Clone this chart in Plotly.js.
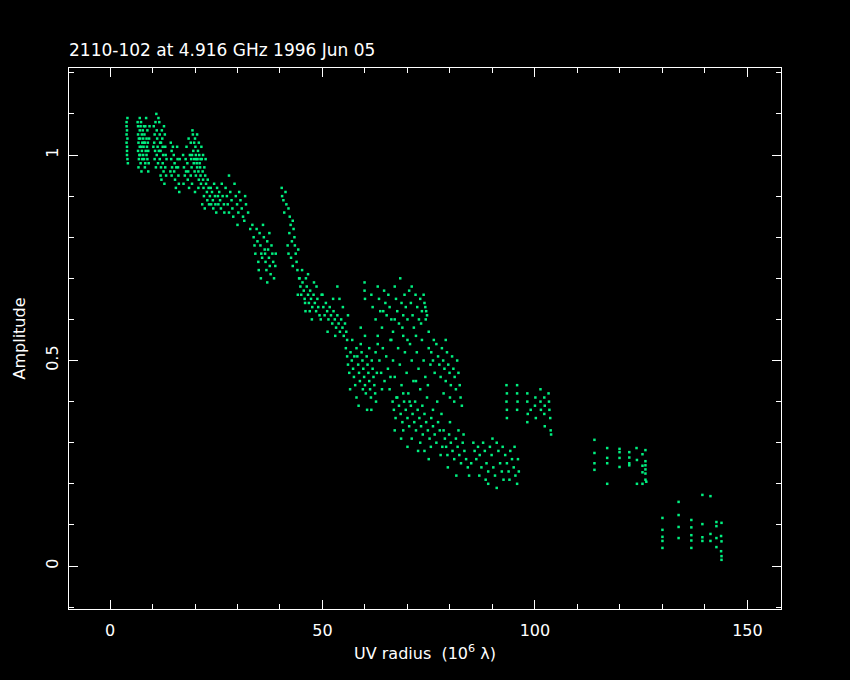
<!DOCTYPE html>
<html>
<head>
<meta charset="utf-8">
<script src="https://cdn.plot.ly/plotly-3.0.1.min.js"></script>
<style>html,body{margin:0;padding:0;background:#000;}#chart{width:850px;height:680px;}</style>
</head>
<body>
<div id="chart"></div>
<script>
// Visibilities: [UV radius (10^6 lambda), Amplitude]
var visShort = [
[3.9,1.08],[3.9,1.07],[4.0,1.06],[3.9,1.05],[4.1,1.04],[3.9,1.03],[4.0,1.02],[4.0,1.01],[4.0,1.00],[4.1,0.99],[4.2,0.98],[4.1,1.09],
[6.6,1.07],[6.6,1.05],[6.7,1.03],[6.6,1.01],[6.8,0.99],[6.7,0.97],[7.0,1.09],[7.0,1.06],[7.1,1.04],[7.0,1.02],[7.1,1.00],[7.2,0.98],
[7.3,1.08],[7.5,1.05],[7.6,1.03],[7.5,1.01],[7.7,1.06],[7.8,1.04],[7.9,1.02],[7.8,1.00],[8.0,0.99],[8.1,1.05],[8.2,1.03],[8.3,1.07],
[8.4,1.01],[8.3,0.98],[8.6,1.04],[8.7,1.02],[8.6,1.00],[8.8,1.06],[8.9,1.03],[9.0,1.01],[9.1,0.98],[9.0,0.96],[8.5,1.09],[7.4,0.96],
[6.5,1.08],[6.9,1.00],[7.2,1.07],[7.6,0.99],[8.0,1.07],[8.2,0.97],[8.8,0.99],[9.2,1.04],[9.3,1.07],[6.8,1.04],[7.4,1.02],[8.0,1.03],
[10.9,1.10],[10.3,1.07],[10.5,1.05],[10.4,1.03],[10.6,1.01],[10.5,0.99],[11.0,1.06],[11.1,1.04],[11.2,1.02],[11.0,1.00],[11.3,0.98],
[11.6,1.08],[11.7,1.05],[11.8,1.03],[11.9,1.01],[11.7,0.99],[12.0,0.97],[12.2,1.06],[12.3,1.04],[12.4,1.02],[12.5,1.00],[12.4,0.98],
[12.6,0.96],[12.9,1.05],[13.0,1.02],[13.1,1.00],[13.0,0.97],[13.2,0.95],[12.8,0.93],[12.1,0.94],
[10.2,1.02],[10.8,0.97],[11.4,1.09],[11.5,1.01],[12.0,1.03],[12.7,1.07],[13.3,0.99],[10.7,1.08],[11.9,0.95],
[14.3,1.03],[14.5,1.01],[14.4,0.99],[14.6,0.97],[14.5,0.95],[15.0,1.00],[15.2,0.98],[15.1,0.96],[15.3,0.94],[15.8,1.02],[15.9,0.99],
[16.0,0.97],[16.1,0.95],[16.2,0.93],[15.5,0.92],[16.3,0.91],[14.8,1.02],[15.6,0.97],[16.4,0.99],[14.2,0.96],
[17.2,1.00],[17.4,0.97],[17.6,0.95],[17.3,0.93],[17.8,0.99],[18.0,1.02],[18.2,0.98],[18.4,0.96],[18.3,0.94],[18.6,0.92],[18.8,1.00],
[19.0,1.03],[19.1,0.99],[19.2,0.97],[19.0,0.95],[19.3,0.93],[19.5,1.05],[19.6,1.01],[19.8,0.99],[19.7,0.98],[19.9,0.96],[20.0,1.04],
[20.1,1.02],[20.2,1.00],[20.3,0.99],[20.4,0.98],[20.5,0.97],[20.6,0.99],[20.7,1.01],[20.8,0.96],[20.9,0.94],[21.0,1.00],[21.1,0.98],
[21.2,0.97],[21.3,0.95],[21.4,0.93],[21.5,1.02],[21.6,0.99],[21.8,0.96],[21.9,0.94],[22.0,0.92],[22.1,0.90],[22.2,0.97],[22.4,0.95],
[22.6,0.93],[22.8,0.91],[22.9,0.89],[23.0,0.94],[23.2,0.92],[19.4,1.06],[20.5,1.05],[21.7,0.88],[20.0,0.91],
[18.5,1.04],[19.8,1.03],[20.2,0.95],[20.9,1.03],[21.3,0.99],[22.5,0.99],[23.3,0.88],[17.9,0.96],[19.3,1.00],[20.8,0.92],[22.3,0.87],[21.9,1.00]
];
var visMid = [
[23.5,0.90],[23.7,0.92],[23.8,0.88],[24.0,0.91],[24.2,0.89],[24.3,0.87],[24.5,0.93],[24.7,0.90],[24.8,0.88],[25.0,0.86],[25.2,0.92],
[25.4,0.90],[25.5,0.88],[25.7,0.91],[25.9,0.89],[26.1,0.87],[26.3,0.93],[26.5,0.90],[26.8,0.88],[26.9,0.86],
[27.2,0.92],[27.5,0.90],[27.7,0.88],[28.0,0.86],[28.3,0.91],[28.6,0.89],[28.8,0.87],[29.0,0.85],[29.3,0.93],[29.6,0.90],[29.9,0.88],
[30.2,0.86],[30.4,0.91],[30.7,0.89],[31.0,0.87],[31.3,0.85],[31.6,0.84],[32.0,0.88],[28.0,0.95],[30.0,0.83],
[31.8,0.90],[32.5,0.86],[33.0,0.82],
[33.8,0.80],[34.0,0.78],[34.2,0.76],[34.5,0.82],[34.7,0.79],[34.9,0.74],[35.2,0.81],[35.4,0.78],[35.6,0.76],[35.8,0.75],[36.0,0.83],
[36.2,0.80],[36.4,0.77],[36.5,0.76],[36.6,0.74],[36.8,0.72],[37.0,0.79],[37.2,0.77],[37.4,0.75],[37.6,0.73],[37.8,0.71],[38.0,0.78],
[38.2,0.76],[38.4,0.74],[38.6,0.70],[37.0,0.69],[38.9,0.73],[35.0,0.72],[33.5,0.83],[35.5,0.70],[37.5,0.81],[39.0,0.76],
[40.4,0.92],[40.5,0.90],[40.8,0.89],[41.3,0.91],[41.5,0.88],[41.0,0.86],[42.0,0.87],[42.3,0.85],[42.5,0.83],[42.2,0.81],[42.8,0.79],
[43.0,0.84],[43.2,0.82],[43.4,0.80],[43.5,0.78],[43.7,0.76],[43.9,0.74],[44.1,0.72],[44.3,0.77],[42.6,0.75],[41.8,0.78],[44.5,0.70],
[43.0,0.73],[42.0,0.76],
[44.6,0.70],[44.8,0.68],[45.0,0.66],[45.3,0.69],[45.6,0.67],[45.8,0.65],[46.1,0.70],[46.3,0.68],[46.6,0.66],[46.8,0.64],[47.1,0.67],
[47.3,0.65],[47.6,0.63],[47.9,0.66],[48.2,0.64],[48.5,0.62],[48.8,0.65],[49.0,0.63],[49.3,0.61],[49.6,0.60],[46.0,0.62],[48.0,0.69],
[44.2,0.66],[45.2,0.72],[46.6,0.71],[47.5,0.60],[48.6,0.68],[49.8,0.66],[45.9,0.64],[47.0,0.62],
[50.2,0.63],[50.5,0.61],[50.8,0.64],[51.1,0.62],[51.4,0.60],[51.7,0.63],[52.0,0.61],[52.3,0.59],[52.6,0.62],[52.9,0.60],[53.2,0.58],
[53.5,0.61],[53.8,0.59],[54.1,0.57],[54.4,0.60],[54.7,0.58],[55.0,0.56],[55.3,0.59],[55.6,0.57],[53.5,0.68],[54.0,0.65],
[50.0,0.66],[51.2,0.57],[52.5,0.65],[53.0,0.56],[54.8,0.63],[56.0,0.61],[55.8,0.55],
[55.5,0.53],[55.8,0.51],[56.0,0.49],[56.3,0.47],[56.6,0.52],[56.9,0.50],[57.2,0.48],[57.4,0.46],[57.7,0.44],[58.0,0.53],[58.2,0.51],
[58.4,0.49],[58.6,0.47],[58.8,0.45],[59.0,0.54],[59.2,0.52],[59.4,0.50],[59.6,0.48],[59.8,0.46],[60.0,0.44],[60.2,0.42],[60.4,0.51],
[60.6,0.49],[60.8,0.47],[61.0,0.45],[61.2,0.43],[61.4,0.41],[61.6,0.50],[61.8,0.48],[62.0,0.46],[62.2,0.44],[62.4,0.42],[62.6,0.40],
[59.5,0.43],[60.0,0.56],[58.0,0.41],[57.0,0.55],[61.0,0.53],[62.5,0.52],[60.5,0.38],
[56.5,0.43],[57.5,0.51],[58.5,0.39],[59.0,0.58],[61.5,0.38],[62.8,0.47]
];
var visLong = [
[59.9,0.69],[59.9,0.67],[60.0,0.65],[61.5,0.66],[61.8,0.63],[62.5,0.60],[63.0,0.68],[63.3,0.65],[63.6,0.62],[64.0,0.58],[64.5,0.67],
[64.8,0.64],[65.1,0.61],[65.5,0.66],[65.8,0.63],[66.2,0.60],[66.6,0.57],[67.0,0.68],[67.3,0.65],[67.6,0.62],[68.0,0.59],[68.3,0.70],
[68.6,0.64],[69.0,0.61],[69.3,0.66],[69.6,0.63],[70.0,0.60],[70.4,0.67],[70.8,0.64],[71.2,0.61],[71.5,0.58],[71.9,0.66],[72.3,0.63],
[72.7,0.60],[73.0,0.65],[73.4,0.62],[73.8,0.66],[74.0,0.64],[74.2,0.63],[74.4,0.62],[74.6,0.61],[74.3,0.60],[72.0,0.56],[70.0,0.55],
[66.0,0.55],[63.0,0.56],[64.3,0.62],[67.0,0.60],[68.8,0.58],[71.0,0.68],[73.2,0.59],[75.0,0.57],
[63.0,0.54],[63.4,0.50],[63.8,0.47],[64.2,0.53],[64.6,0.45],[65.0,0.51],[65.4,0.48],[65.8,0.43],[66.2,0.55],[66.6,0.50],[67.0,0.46],
[67.4,0.41],[67.8,0.53],[68.2,0.49],[68.6,0.44],[69.0,0.56],[69.4,0.52],[69.8,0.47],[70.2,0.42],[70.6,0.54],[71.0,0.50],[71.4,0.45],
[71.8,0.40],[72.2,0.52],[72.6,0.48],[73.0,0.43],[73.4,0.55],[73.8,0.50],[74.2,0.46],[74.6,0.41],[75.0,0.53],[75.4,0.49],
[64.0,0.43],[66.0,0.46],[69.0,0.42],[72.0,0.45],[74.8,0.44],[76.2,0.55],
[75.6,0.52],[76.0,0.50],[76.4,0.47],[76.8,0.54],[77.2,0.51],[77.5,0.49],[77.8,0.46],[78.1,0.53],[78.4,0.50],[78.7,0.48],[79.0,0.45],
[79.3,0.52],[79.6,0.49],[79.9,0.47],[80.2,0.44],[80.5,0.51],[80.8,0.48],[81.1,0.46],[81.4,0.43],[81.7,0.50],[82.0,0.47],[82.3,0.44],
[82.5,0.41],[82.8,0.39],[80.0,0.41],[78.5,0.42],[77.0,0.40],[81.0,0.40],[79.0,0.55],
[66.5,0.40],[66.8,0.38],[67.2,0.36],[67.6,0.41],[68.0,0.39],[68.4,0.37],[68.8,0.35],[69.2,0.40],[69.6,0.38],[70.0,0.36],[70.4,0.34],
[70.8,0.39],[71.2,0.37],[71.6,0.35],[72.0,0.33],[72.4,0.38],[72.8,0.36],[73.2,0.34],[73.6,0.32],[74.0,0.37],[74.4,0.35],[74.8,0.33],
[75.2,0.31],[75.6,0.36],[76.0,0.34],[76.4,0.32],[76.8,0.30],[77.2,0.35],[77.6,0.33],[73.0,0.30],[74.0,0.28],[75.0,0.26],[71.0,0.31],
[69.0,0.33],[76.0,0.38],[78.0,0.37],
[67.0,0.33],[68.5,0.31],[70.0,0.29],[72.5,0.28],[75.5,0.29],[77.8,0.27],[70.5,0.40],[73.5,0.39],
[78.5,0.33],[78.8,0.31],[79.1,0.29],[79.4,0.27],[79.8,0.32],[80.2,0.30],[80.6,0.28],[81.0,0.26],[81.4,0.31],[81.8,0.29],[82.2,0.27],
[82.6,0.25],[83.0,0.30],[83.4,0.28],[83.8,0.26],[84.2,0.24],[80.0,0.35],[82.0,0.33],[84.5,0.22],[78.2,0.29],
[85.5,0.30],[85.8,0.28],[86.2,0.26],[86.6,0.29],[87.0,0.27],[87.4,0.24],[87.8,0.30],[88.2,0.28],[88.6,0.25],[89.0,0.23],[89.4,0.29],
[89.8,0.27],[90.2,0.24],[90.6,0.22],[91.0,0.30],[91.4,0.28],[91.8,0.25],[92.2,0.23],[92.6,0.21],[93.0,0.27],[93.4,0.25],[93.8,0.23],
[94.2,0.28],[94.6,0.26],[95.0,0.24],[95.4,0.22],[95.8,0.20],[96.0,0.26],[89.0,0.20],[91.0,0.19],
[79.5,0.24],[81.5,0.22],[83.2,0.32],[85.0,0.25],[86.9,0.22],[88.4,0.21],[90.0,0.31],[92.4,0.29],[94.0,0.21],[95.2,0.29],[96.2,0.23]
];
var visLongest = [
[93.3,0.44],[93.4,0.42],[93.3,0.40],[93.4,0.38],[93.4,0.36],[95.8,0.44],[95.8,0.42],[95.9,0.40],[95.8,0.38],
[98.2,0.42],[98.2,0.40],[98.3,0.37],[98.2,0.35],[100.1,0.41],[100.0,0.39],[100.2,0.36],[101.3,0.43],[101.3,0.40],[101.4,0.38],
[102.2,0.41],[102.3,0.39],[102.2,0.37],[102.3,0.34],[103.2,0.42],[103.3,0.40],[103.4,0.38],[103.6,0.36],[103.7,0.33],[103.8,0.32],[99.0,0.38],
[114.0,0.307],[114.0,0.275],[114.0,0.25],[114.0,0.234],[117.0,0.287],[117.0,0.263],[117.0,0.25],[117.0,0.20],
[119.9,0.285],[119.9,0.277],[119.9,0.263],[119.9,0.241],[122.2,0.277],[122.2,0.264],[122.2,0.25],[122.2,0.245],
[123.9,0.287],[124.0,0.258],[124.0,0.20],[125.3,0.272],[125.3,0.244],[125.3,0.228],[125.3,0.20],
[126.0,0.282],[126.0,0.255],[126.0,0.245],[126.0,0.235],[126.0,0.225],[126.0,0.21],[126.2,0.205],
[139.4,0.173],[141.3,0.170],[133.8,0.156],[133.8,0.124],[130.0,0.117],[130.0,0.088],[130.0,0.071],[130.0,0.061],[130.0,0.044],
[133.8,0.095],[133.8,0.068],[136.8,0.112],[136.8,0.094],[136.8,0.075],[136.8,0.062],[136.8,0.044],
[139.4,0.102],[139.4,0.070],[139.4,0.061],[141.3,0.078],[141.3,0.061],[142.7,0.107],[142.7,0.097],[142.7,0.068],[142.7,0.046],
[143.9,0.105],[143.8,0.073],[143.9,0.060],[143.8,0.036],[143.9,0.024],[143.9,0.015]
];
var xTickVals = [0, 50, 100, 150];
var yTickVals = [0, 0.5, 1];
var yTickText = ['0', '0.5', '1'];

var all = visShort.concat(visMid, visLong, visLongest);
var uv = all.map(function(p){return p[0];});
var amp = all.map(function(p){return p[1];});

var fontFam = 'DejaVu Sans, sans-serif';
var data = [{
  type: 'scatter', mode: 'markers', x: uv, y: amp,
  marker: {color: '#00f080', size: 2.5, symbol: 'square', line: {width: 0}},
  hoverinfo: 'x+y'
}];
var axisCommon = {
  showgrid: false, zeroline: false, showline: true, linecolor: '#ffffff', linewidth: 1,
  mirror: 'ticks', ticks: 'inside', ticklen: 9, tickwidth: 1, tickcolor: '#ffffff',
  tickfont: {family: fontFam, size: 16, color: '#ffffff'}
};
var layout = {
  width: 850, height: 680,
  paper_bgcolor: '#000000', plot_bgcolor: '#000000',
  margin: {l: 69, r: 69, t: 68, b: 71},
  showlegend: false,
  title: {text: '2110-102 at 4.916 GHz 1996 Jun 05', x: 0, xref: 'paper', xanchor: 'left',
          y: 1 - 50/680, yref: 'container', yanchor: 'middle',
          font: {family: fontFam, size: 17, color: '#ffffff'}},
  xaxis: Object.assign({}, axisCommon, {
    range: [-9.65, 157.9], tickvals: xTickVals,
    minor: {dtick: 10, tick0: 0, ticks: 'inside', ticklen: 5, tickcolor: '#ffffff', showgrid: false},
    ticklabelstandoff: 7,
    title: {text: 'UV radius\u00a0\u00a0(10<sup>6</sup> \u03bb)', standoff: 8,
            font: {family: fontFam, size: 16, color: '#ffffff'}}
  }),
  yaxis: Object.assign({}, axisCommon, {
    range: [-0.1046, 1.2117], tickvals: yTickVals, ticktext: yTickText, tickangle: -90,
    minor: {dtick: 0.1, tick0: 0, ticks: 'inside', ticklen: 5, tickcolor: '#ffffff', showgrid: false},
    ticklabelstandoff: 4,
    title: {text: 'Amplitude', standoff: 12, font: {family: fontFam, size: 16, color: '#ffffff'}}
  })
};
Plotly.newPlot('chart', data, layout, {displayModeBar: false, staticPlot: true});
</script>
</body>
</html>
